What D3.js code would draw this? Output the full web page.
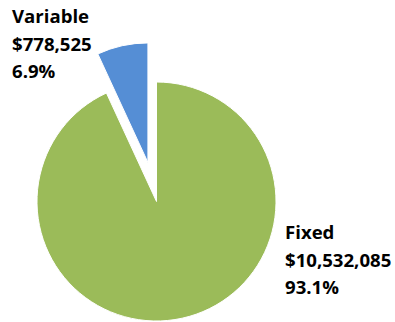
<!DOCTYPE html>
<html>
<head>
<meta charset="utf-8">
<script src="https://cdn.jsdelivr.net/npm/d3@7"></script>
<style>
  html, body { margin: 0; padding: 0; background: #fff; }
  svg { display: block; }
  text { font-family: "Open Sans", Lato, sans-serif; font-weight: bold; fill: #000; }
</style>
</head>
<body>
<svg id="chart" width="395" height="322"></svg>
<script>
// Cost breakdown
const categories = ["Fixed", "Variable"];
const values = [10532085, 778525];
const colors = ["#9BBB59", "#558ED5"];

const W = 395, H = 322;
const cx = 156.5, cy = 201.5, radius = 119.5;
const explode = [0, 40];

const svg = d3.select("#chart");
const total = d3.sum(values);

const pie = d3.pie().sort(null).value(d => d.value)
  .startAngle(0).endAngle(2 * Math.PI);
const arcs = pie(categories.map((c, i) => ({ name: c, value: values[i], i })));
const arc = d3.arc().innerRadius(0).outerRadius(radius);

const g = svg.append("g").attr("transform", `translate(${cx},${cy})`);

g.selectAll("path").data(arcs).join("path")
  .attr("d", arc)
  .attr("fill", d => colors[d.data.i])
  .attr("stroke", "#fff")
  .attr("stroke-width", 1)
  .attr("transform", d => {
    const a = (d.startAngle + d.endAngle) / 2;
    const off = explode[d.data.i];
    return `translate(${off * Math.sin(a)},${-off * Math.cos(a)})`;
  });

const money = d3.format("$,");
const pct = d3.format(".1%");

// label blocks: name, amount, share
const labelPos = [
  { x: 285, y: 239 },
  { x: 12, y: 23 }
];
const lineGap = 27.5;

arcs.forEach(d => {
  const p = labelPos[d.data.i];
  const lines = [d.data.name, money(d.data.value), pct(d.data.value / total)];
  const t = svg.append("text").attr("x", p.x).attr("y", p.y).attr("font-size", 18.6);
  lines.forEach((s, k) => {
    t.append("tspan").attr("x", p.x).attr("y", p.y + k * lineGap).text(s);
  });
});
</script>
</body>
</html>
